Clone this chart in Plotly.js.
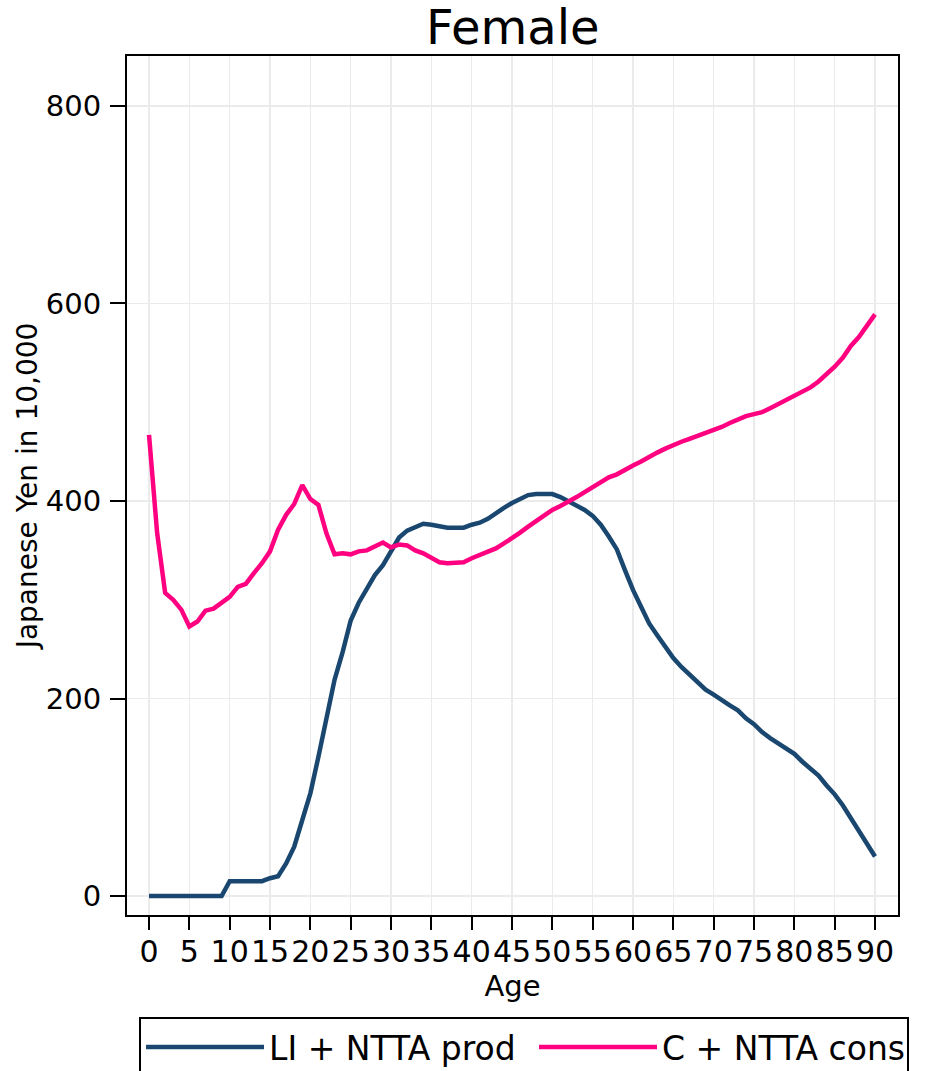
<!DOCTYPE html>
<html>
<head>
<meta charset="utf-8">
<script src="https://cdn.plot.ly/plotly-3.0.1.min.js"></script>
<style>html,body{margin:0;padding:0;background:#fff;}#chart{width:940px;height:1071px;}</style>
</head>
<body>
<div id="chart"></div>
<script>
const ages = Array.from({length: 91}, (_, i) => i);

const prodLabel = "LI + NTTA prod";
const consLabel = "C + NTTA cons";

const prodValues = [
  0,0,0,0,0,0,0,0,0,0,
  15,15,15,15,15,18,20,33,50,77,
  104,141,182,219,247,279,297,312,325,335,
  350,363,370,374,377,376,374,373,373,373,
  376,378,382,388,393,398,402,406,407,407,
  407,404,400,395,391,385,376,364,351,330,
  310,293,276,264,252,241,232,224,216,209,
  204,198,193,188,180,174,166,160,155,150,
  144,136,129,122,112,103,92,79,67,53,
  40
];

const consValues = [
  467,368,307,300,290,273,278,289,291,297,
  303,313,316,327,337,349,371,386,397,416,
  402,396,367,346,347,346,349,350,354,358,
  353,356,355,350,347,343,338,337,337,338,
  342,345,348,352,357,362,368,374,380,385,
  391,395,399,404,409,414,418,424,427,432,
  436,440,445,449,453,457,460,463,466,468,
  472,475,479,483,486,488,490,494,498,502,
  506,510,515,521,528,536,545,557,566,577,
  589
];

const xTicks = [0,5,10,15,20,25,30,35,40,45,50,55,60,65,70,75,80,85,90];
const yTicks = [0,200,400,600,800];

const FONT = "DejaVu Sans, Liberation Sans, Arial, sans-serif";

const traces = [
  {x: ages, y: prodValues, name: prodLabel, type: "scatter", mode: "lines",
   line: {color: "#1a476f", width: 4.5}, legendwidth: 260},
  {x: ages, y: consValues, name: consLabel, type: "scatter", mode: "lines",
   line: {color: "#ff0080", width: 4.5}, legendwidth: 240}
];

const layout = {
  width: 940, height: 1071,
  margin: {l: 127, r: 42, t: 56, b: 156, pad: 0},
  paper_bgcolor: "#ffffff", plot_bgcolor: "#ffffff",
  font: {family: FONT, color: "#000000", size: 28},
  title: {text: "Female", font: {family: FONT, size: 48, color: "#000"},
          x: 0.5455, xanchor: "center", y: 0.975, yanchor: "middle"},
  xaxis: {
    range: [-2.73, 92.85], tickmode: "array", tickvals: xTicks, ticktext: xTicks.map(String),
    tickangle: 0, ticks: "outside", ticklen: 13, tickwidth: 2, tickcolor: "#000",
    showline: true, linecolor: "#000", linewidth: 2, mirror: true,
    showgrid: true, gridcolor: "#ebebeb", gridwidth: 1.5, zeroline: false,
    tickfont: {family: FONT, size: 30, color: "#000"}, ticklabelstandoff: -4,
    title: {text: "Age", font: {family: FONT, size: 29, color: "#000"}, standoff: 0}
  },
  yaxis: {
    range: [-19.2, 850.6], tickmode: "array", tickvals: yTicks, ticktext: yTicks.map(String),
    ticks: "outside", ticklen: 15, tickwidth: 2, tickcolor: "#000",
    showline: true, linecolor: "#000", linewidth: 2, mirror: true,
    showgrid: true, gridcolor: "#ebebeb", gridwidth: 1.5, zeroline: false,
    tickfont: {family: FONT, size: 29, color: "#000"}, ticklabelstandoff: 3,
    title: {text: "Japanese Yen in 10,000", font: {family: FONT, size: 28, color: "#000"}, standoff: 0}
  },
  showlegend: true,
  legend: {
    orientation: "h", xref: "container", x: 0.1479, xanchor: "left",
    yref: "container", y: 0.0504, yanchor: "top",
    bordercolor: "#000", borderwidth: 2, bgcolor: "#fff",
    font: {family: FONT, size: 33, color: "#000"},
    itemwidth: 118, entrywidthmode: "pixels",
    traceorder: "normal"
  },
  hovermode: false
};

Plotly.newPlot("chart", traces, layout, {displayModeBar: false, staticPlot: true});
</script>
</body>
</html>
